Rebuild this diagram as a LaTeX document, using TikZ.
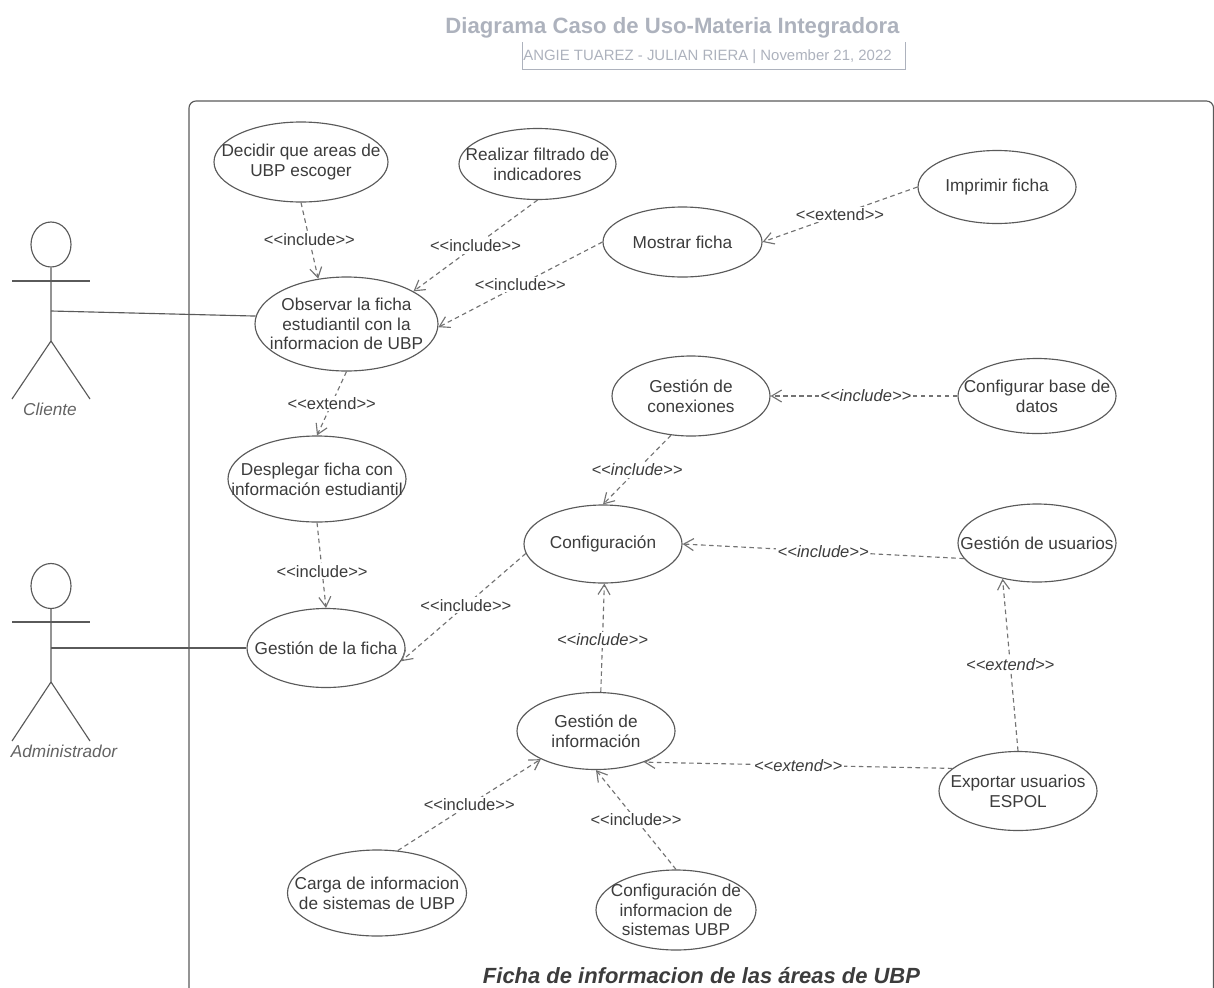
\documentclass[tikz,border=0pt]{standalone}
\usepackage{fontspec}
\setmainfont{Liberation Sans}
\usetikzlibrary{shapes.geometric,arrows.meta}

\definecolor{linegray}{HTML}{5A5A5A}
\definecolor{textgray}{HTML}{3C3C3C}
\definecolor{titlegray}{HTML}{ADB2BD}
\newcommand{\stinclude}{<{}<include>{}>}
\newcommand{\stextend}{<{}<extend>{}>}

\begin{document}
\begin{tikzpicture}[>={Straight Barb[length=2mm,width=2.4mm]},
  usecase/.style={ellipse,draw=linegray,fill=white,text=textgray,line width=.65pt,align=center,inner xsep=-1.5cm,inner ysep=-.8cm,font=\fontsize{9.8}{11.2}\selectfont},
  actor/.style={draw=linegray,line width=.65pt},
  actorname/.style={text=textgray!80,font=\fontsize{9.8}{11}\selectfont\itshape},
  dep/.style={->,draw=linegray!85,dash pattern=on 2.6pt off 2pt,line width=.65pt},
  incl/.style={fill=white,text=textgray,inner sep=1pt,font=\fontsize{9.4}{11}\selectfont},
  inclit/.style={incl,font=\fontsize{9.4}{11}\selectfont\itshape}]
  \useasboundingbox (0,0) rectangle (24.28,-19.74);
  \clip (0,0) rectangle (24.28,-19.74);

  % title
  \node [text=titlegray,font=\fontsize{12.6}{15}\selectfont\bfseries] (title) at (13.45,-0.56) {Diagrama Caso de Uso-Materia Integradora};
  \node [text=titlegray,font=\fontsize{8.5}{10}\selectfont,inner sep=0pt] (subtitle) at (14.15,-1.14) {ANGIE TUAREZ - JULIAN RIERA | November 21, 2022};
  \draw [titlegray,line width=.5pt] (10.44,-0.84) |- (18.1,-1.38) -- (18.1,-0.84);

  % frame
  \draw [actor,rounded corners=4pt] (3.78,-21) |- (24.27,-2.02) -- (24.27,-21);
  \node [text=textgray,font=\fontsize{12.5}{15}\selectfont\bfseries\itshape] (framename) at (14.03,-19.52) {Ficha de informacion de las áreas de UBP};

  % use cases
  \path
  (6.02,-3.24) node [usecase,minimum width=3.48cm,minimum height=1.6cm] (decidir) {Decidir que areas de\\UBP escoger}
  (10.75,-3.28) node [usecase,minimum width=3.14cm,minimum height=1.42cm] (filtrado) {Realizar filtrado de\\indicadores}
  (13.65,-4.84) node [usecase,minimum width=3.18cm,minimum height=1.4cm] (mostrar) {Mostrar ficha}
  (19.94,-3.74) node [usecase,minimum width=3.16cm,minimum height=1.46cm] (imprimir) {Imprimir ficha}
  (6.93,-6.48) node [usecase,minimum width=3.66cm,minimum height=1.88cm] (observar) {Observar la ficha\\estudiantil con la\\informacion de UBP}
  (6.34,-9.58) node [usecase,minimum width=3.56cm,minimum height=1.72cm] (desplegar) {Desplegar ficha con\\información estudiantil}
  (13.82,-7.92) node [usecase,minimum width=3.16cm,minimum height=1.6cm] (conexiones) {Gestión de\\conexiones}
  (20.74,-7.92) node [usecase,minimum width=3.16cm,minimum height=1.5cm] (basedatos) {Configurar base de\\datos}
  (12.06,-10.88) node [usecase,minimum width=3.16cm,minimum height=1.56cm] (configuracion) {Configuración}
  (20.74,-10.86) node [usecase,minimum width=3.16cm,minimum height=1.56cm] (usuarios) {Gestión de usuarios}
  (6.52,-12.96) node [usecase,minimum width=3.16cm,minimum height=1.58cm] (gficha) {Gestión de la ficha}
  (11.92,-14.62) node [usecase,minimum width=3.16cm,minimum height=1.54cm] (ginfo) {Gestión de\\información}
  (20.36,-15.82) node [usecase,minimum width=3.16cm,minimum height=1.58cm] (exportar) {Exportar usuarios\\ESPOL}
  (7.54,-17.86) node [usecase,minimum width=3.58cm,minimum height=1.72cm] (carga) {Carga de informacion\\de sistemas de UBP}
  (13.52,-18.2) node [usecase,minimum width=3.2cm,minimum height=1.6cm] (confinfo) {Configuración de\\informacion de\\sistemas UBP};

  % actors
  \node [ellipse,actor,minimum width=0.8cm,minimum height=0.9cm,inner sep=0pt] (headcli) at (1.02,-4.89) {};
  \coordinate (hipcli) at (1.02,-6.82);
  \coordinate (handcli) at (1.02,-6.22);
  \draw [actor] (headcli) -- (hipcli) -- (0.24,-7.98);
  \draw [actor] (hipcli) -- (1.8,-7.98);
  \draw [actor] (0.24,-5.62) -- (1.8,-5.62);
  \node [actorname] (cliente) at (1.0,-8.18) {Cliente};

  \node [ellipse,actor,minimum width=0.8cm,minimum height=0.9cm,inner sep=0pt] (headadm) at (1.02,-11.72) {};
  \coordinate (hipadm) at (1.02,-13.64);
  \coordinate (handadm) at (1.02,-12.96);
  \draw [actor] (headadm) -- (hipadm) -- (0.24,-14.82);
  \draw [actor] (hipadm) -- (1.8,-14.82);
  \draw [actor] (0.24,-12.44) -- (1.8,-12.44);
  \node [actorname] (administrador) at (1.28,-15.02) {Administrador};

  \draw [actor] (handcli) -- (observar.175);
  \draw [actor] (handadm) -- (gficha.west);

  % dependencies
  \draw [dep] (decidir.-90) -- node [incl,pos=.49] {\stinclude} (observar.122);
  \draw [dep] (filtrado.-90) -- node [incl,pos=.5] {\stinclude} (observar.26);
  \draw [dep] (mostrar.180) -- node [incl,pos=.5] {\stinclude} (observar.-2);
  \draw [dep] (imprimir.180) -- node [incl,pos=.5] {\stextend} (mostrar.0);
  \draw [dep] (observar.-90) -- node [incl,pos=.5] {\stextend} (desplegar.90);
  \draw [dep] (desplegar.-90) -- node [incl,pos=.57] {\stinclude} (gficha.90);
  \draw [dep] (configuracion.187) -- node [incl,pos=.48] {\stinclude} (gficha.-10);
  \draw [dep] (conexiones.243) -- node [inclit,pos=.5] {\stinclude} (configuracion.90);
  \draw [dep] (basedatos.180) -- node [inclit,pos=.49] {\stinclude} (conexiones.0);
  \draw [dep] (usuarios.192) -- node [inclit,pos=.5] {\stinclude} (configuracion.0);
  \draw [dep] (ginfo.83) -- node [inclit,pos=.48] {\stinclude} (configuracion.-88);
  \draw [dep] (exportar.90) -- node [inclit,pos=.5] {\stextend} (usuarios.226);
  \draw [dep] (exportar.161) -- node [inclit,pos=.5] {\stextend} (ginfo.-33);
  \draw [dep] (carga.64) -- node [incl,pos=.5] {\stinclude} (ginfo.207);
  \draw [dep] (confinfo.90) -- node [incl,pos=.5] {\stinclude} (ginfo.-90);
\end{tikzpicture}
\end{document}
